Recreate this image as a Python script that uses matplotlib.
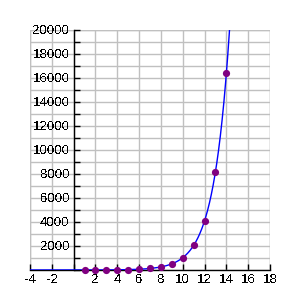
import numpy as np
import matplotlib
matplotlib.use("Agg")
import matplotlib.pyplot as plt
from matplotlib.ticker import MultipleLocator, FuncFormatter

# Data
point_x = [1, 2, 3, 4, 5, 6, 7, 8, 9, 10, 11, 12, 13, 14]
point_y = [2, 4, 8, 16, 32, 64, 128, 256, 512, 1024, 2048, 4096, 8192, 16384]
curve_base = 2  # curve y = base ** x
x_range = [-4, 18]
y_range = [0, 20000]

plt.rcParams['font.family'] = ['Liberation Sans', 'DejaVu Sans']
plt.rcParams['text.antialiased'] = False

fig = plt.figure(figsize=(3, 3), dpi=100)
ax = fig.add_axes([0.1, 0.1, 0.8, 0.8])
ax.set_xlim(*x_range)
ax.set_ylim(*y_range)

# grid
ax.xaxis.set_major_locator(MultipleLocator(2))
ax.yaxis.set_major_locator(MultipleLocator(2000))
ax.yaxis.set_minor_locator(MultipleLocator(1000))
ax.grid(True, which='major', color='#c0c0c0', lw=1)
ax.grid(True, which='minor', axis='y', color='#c0c0c0', lw=1)
ax.set_axisbelow(True)

for s in ['top', 'right']:
    ax.spines[s].set_visible(False)
ax.spines['left'].set_position(('data', 0))
ax.spines['bottom'].set_position(('data', 0))
ax.spines['left'].set_color('black')
ax.spines['bottom'].set_color('black')
ax.spines['left'].set_linewidth(1)
ax.spines['bottom'].set_linewidth(1)

fmt = FuncFormatter(lambda v, p: '' if v == 0 else f'{v:g}')
ax.xaxis.set_major_formatter(fmt)
ax.yaxis.set_major_formatter(FuncFormatter(lambda v, p: '' if v == 0 else f'{int(v)}'))

ax.tick_params(axis='y', which='major', direction='in', length=4, width=1, labelsize=9.5, pad=3)
ax.tick_params(axis='y', which='minor', direction='in', length=4, width=1)
ax.tick_params(axis='x', which='major', direction='in', length=4, width=1, labelsize=9.5, pad=3)

# boundary gridlines
for xv in x_range:
    ax.axvline(xv, color='#c0c0c0', lw=1, zorder=0.5)
ax.axhline(y_range[1], color='#c0c0c0', lw=1, zorder=0.5)

xs = np.linspace(x_range[0], x_range[1], 2000)
ax.plot(xs, curve_base ** xs, color='blue', lw=1, zorder=3, clip_on=True)
ax.plot(point_x, point_y, 'o', color='#800080', ms=5.2, mec='none', zorder=4, clip_on=False)

fig.savefig('out.png', dpi=100)
